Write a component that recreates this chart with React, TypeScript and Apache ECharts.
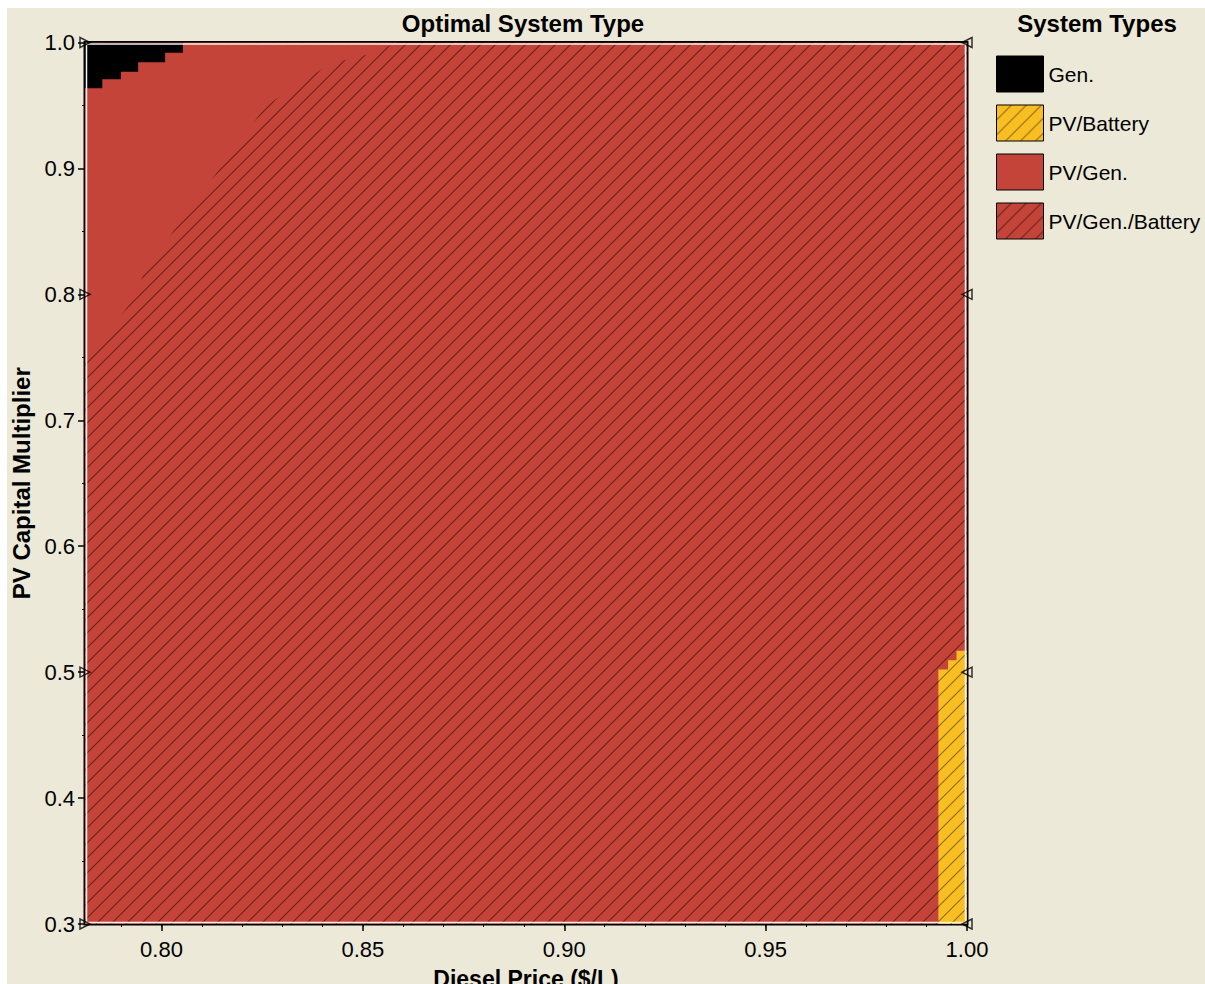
import React, { useEffect, useRef } from "react";
import * as echarts from "echarts";

// Axis ranges
const xMin = 0.781;
const xMax = 1.0;
const yMin = 0.3;
const yMax = 1.0;

// Tick values
const xMajorTicks = [0.8, 0.85, 0.9, 0.95, 1.0];
const xMinorTicks = [0.79, 0.8, 0.81, 0.82, 0.83, 0.84, 0.85, 0.86, 0.87, 0.88, 0.89, 0.9, 0.91, 0.92, 0.93, 0.94, 0.95, 0.96, 0.97, 0.98, 0.99, 1.0];

// Legend categories
const systemTypes = ["Gen.", "PV/Battery", "PV/Gen.", "PV/Gen./Battery"];

// Region boundaries [diesel price, PV capital multiplier]
const pvGenBatteryRegion = [
  [xMin, yMin],
  [xMax, yMin],
  [xMax, yMax],
  [xMin, yMax],
];
const pvGenRegion = [
  [xMin, yMax],
  [xMin, 0.745],
  [0.7922, 0.793],
  [0.7964, 0.8217],
  [0.8053, 0.8603],
  [0.8166, 0.9093],
  [0.8257, 0.9488],
  [0.8351, 0.9702],
  [0.8426, 0.9837],
  [0.8525, 0.9917],
  [0.8585, yMax],
];
const genRegion = [
  [xMin, yMax],
  [0.8053, yMax],
  [0.8053, 0.9919],
  [0.8009, 0.9919],
  [0.8009, 0.9843],
  [0.7942, 0.9843],
  [0.7942, 0.9768],
  [0.7899, 0.9768],
  [0.7899, 0.9708],
  [0.7853, 0.9708],
  [0.7853, 0.9636],
  [xMin, 0.9636],
];
const pvBatteryRegion = [
  [0.9929, yMin],
  [xMax, yMin],
  [xMax, 0.5169],
  [0.9974, 0.5169],
  [0.9974, 0.5095],
  [0.9953, 0.5095],
  [0.9953, 0.5021],
  [0.9929, 0.5021],
];

// Sensitivity case markers [x, y, rotation]
const sensitivityPoints = [
  [xMin, 1.0, -90],
  [xMax, 1.0, 90],
  [xMin, 0.8, -90],
  [xMax, 0.8, 90],
  [xMin, 0.5, -90],
  [xMax, 0.5, 90],
  [xMin, 0.3, -90],
  [xMax, 0.3, 90],
];

const FONT = "'Liberation Sans', Arial, sans-serif";
const BG = "#ECE9D8";
const RED = "#C5443A";
const YELLOW = "#F8BE22";

function makeHatch(bg: string, line: string, size: number) {
  const c = document.createElement("canvas");
  c.width = size;
  c.height = size;
  const ctx = c.getContext("2d")!;
  ctx.fillStyle = bg;
  ctx.fillRect(0, 0, size, size);
  ctx.strokeStyle = line;
  ctx.lineWidth = 1.1;
  ctx.beginPath();
  ctx.moveTo(-1, size + 1);
  ctx.lineTo(size + 1, -1);
  ctx.moveTo(-1, 1);
  ctx.lineTo(1, -1);
  ctx.moveTo(size - 1, size + 1);
  ctx.lineTo(size + 1, size - 1);
  ctx.stroke();
  return { image: c, repeat: "repeat", imageWidth: size, imageHeight: size } as any;
}

function regionSeries(name: string, region: number[][], fill: any, z: number) {
  return {
    type: "custom",
    name,
    coordinateSystem: "cartesian2d",
    data: region,
    z,
    clip: true,
    itemStyle: { color: fill },
    renderItem: (params: any, api: any) => {
      if (params.dataIndex !== 0) return null;
      const pts = region.map((p) => api.coord(p));
      return {
        type: "polygon",
        shape: { points: pts },
        style: { fill, stroke: null },
      };
    },
  };
}

export default function App() {
  const ref = useRef<HTMLDivElement>(null);
  useEffect(() => {
    if (!ref.current) return;
    const chart = echarts.init(ref.current, null, { renderer: "svg" });
    const redHatch = makeHatch(RED, "#6a2219", 15);
    const yellowHatch = makeHatch(YELLOW, "#8f6a1a", 15);
    const fills: Record<string, any> = {
      "Gen.": "#000000",
      "PV/Battery": yellowHatch,
      "PV/Gen.": RED,
      "PV/Gen./Battery": redHatch,
    };

    const option: any = {
      animation: false,
      backgroundColor: BG,
      textStyle: { fontFamily: FONT },
      title: [
        {
          text: "Optimal System Type",
          left: 516,
          top: 3,
          padding: 0,
          textAlign: "center",
          textStyle: { fontFamily: FONT, fontSize: 24, fontWeight: "bold", color: "#000" },
        },
        {
          text: "System Types",
          left: 1090,
          top: 3,
          padding: 0,
          textAlign: "center",
          textStyle: { fontFamily: FONT, fontSize: 24, fontWeight: "bold", color: "#000" },
        },
      ],
      legend: {
        orient: "vertical",
        left: 989,
        top: 47.5,
        padding: 0,
        itemWidth: 47,
        itemHeight: 36,
        itemGap: 12,
        selectedMode: false,
        icon: "rect",
        textStyle: { fontFamily: FONT, fontSize: 21, color: "#000", padding: [0, 0, 0, 0] },
        data: systemTypes.map((n) => ({
          name: n,
          icon: "rect",
          itemStyle: { color: fills[n], borderColor: "#000", borderWidth: 1 },
        })),
      },
      grid: {
        left: 78,
        top: 34.5,
        right: 238,
        bottom: 60,
        containLabel: false,
        outerBoundsMode: "none",
        show: true,
        backgroundColor: "transparent",
        borderColor: "#000",
        borderWidth: 3,
      },
      xAxis: [
        {
          type: "value",
          min: xMin,
          max: xMax,
          position: "bottom",
          axisLine: { show: true, onZero: false, lineStyle: { color: "#000", width: 2 } },
          axisTick: { show: true, customValues: xMinorTicks, length: 3, lineStyle: { color: "#000", width: 1 } },
          axisLabel: { show: false },
          splitLine: { show: false },
        },
        {
          type: "value",
          min: xMin,
          max: xMax,
          position: "bottom",
          offset: 0,
          name: "Diesel Price ($/L)",
          nameLocation: "middle",
          nameGap: 43,
          nameTextStyle: { fontFamily: FONT, fontSize: 23, fontWeight: "bold", color: "#000" },
          axisLine: { show: false, onZero: false },
          axisTick: { show: true, customValues: xMajorTicks, length: 7, lineStyle: { color: "#000", width: 1.5 } },
          axisLabel: {
            show: true,
            customValues: xMajorTicks,
            formatter: (v: number) => v.toFixed(2),
            fontFamily: FONT,
            fontSize: 22,
            color: "#000",
            margin: 14,
          },
          splitLine: { show: false },
        },
      ],
      yAxis: {
        type: "value",
        min: yMin,
        max: yMax,
        interval: 0.1,
        name: "PV Capital Multiplier",
        nameLocation: "middle",
        nameGap: 46,
        nameTextStyle: { fontFamily: FONT, fontSize: 24, fontWeight: "bold", color: "#000" },
        axisLine: { show: true, onZero: false, lineStyle: { color: "#000", width: 2 } },
        axisTick: { show: true, length: 7, lineStyle: { color: "#000", width: 1.5 } },
        minorTick: { show: true, splitNumber: 2, length: 3, lineStyle: { color: "#000", width: 1 } },
        axisLabel: {
          formatter: (v: number) => v.toFixed(1),
          fontFamily: FONT,
          fontSize: 22,
          color: "#000",
          margin: 10,
        },
        splitLine: { show: false },
        minorSplitLine: { show: false },
      },
      graphic: [
        {
          type: "rect",
          z: 100,
          silent: true,
          shape: { x: 79.5, y: 36, width: 879, height: 878.5 },
          style: { fill: "none", stroke: "#f4f2ee", lineWidth: 1.5 },
        },
      ],
      series: [
        regionSeries("PV/Gen./Battery", pvGenBatteryRegion, redHatch, 1),
        regionSeries("PV/Gen.", pvGenRegion, RED, 2),
        regionSeries("Gen.", genRegion, "#000000", 3),
        regionSeries("PV/Battery", pvBatteryRegion, yellowHatch, 4),
        {
          type: "scatter",
          name: "cases",
          z: 120,
          clip: false,
          symbol: "triangle",
          symbolSize: 10,
          itemStyle: { color: "rgba(0,0,0,0)", borderColor: "#000", borderWidth: 1.5 },
          data: sensitivityPoints.map((p) => ({ value: [p[0], p[1]], symbolRotate: p[2] })),
        },
      ],
    };
    chart.setOption(option);
    return () => chart.dispose();
  }, []);
  return (
    <div
      ref={ref}
      style={{ position: "absolute", left: 7, top: 8, width: 1198, height: 976 }}
    />
  );
}
